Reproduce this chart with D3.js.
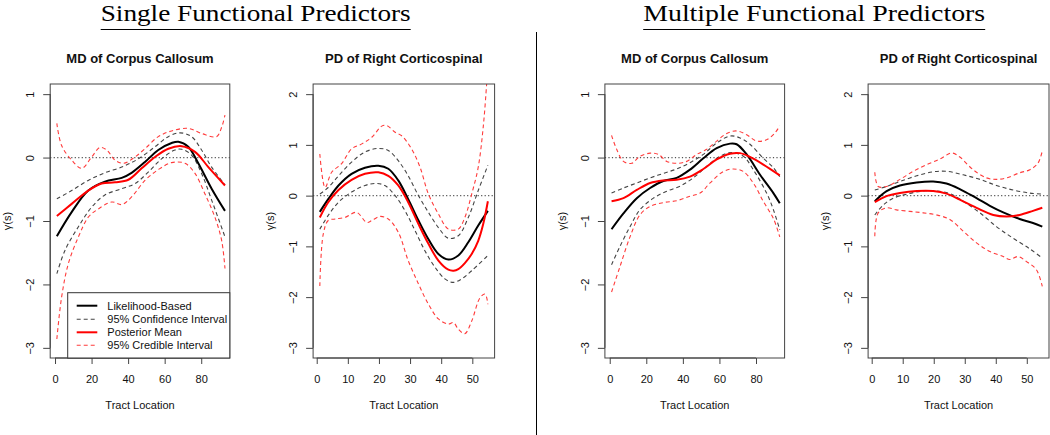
<!DOCTYPE html>
<html>
<head>
<meta charset="utf-8">
<script src="https://cdn.jsdelivr.net/npm/d3@7"></script>
<style>
  html, body { margin: 0; padding: 0; background: #fff; }
  svg { display: block; }
  text { font-family: "Liberation Sans", Arial, Helvetica, sans-serif; fill: #111; }
</style>
</head>
<body>
<svg id="chart" width="1050" height="435"></svg>
<script>
// ---------------- DATA ----------------
const groupTitles = ["Single Functional Predictors", "Multiple Functional Predictors"];
const panelTitles = ["MD of Corpus Callosum", "PD of Right Corticospinal", "MD of Corpus Callosum", "PD of Right Corticospinal"];
const xLabel = "Tract Location";
const yLabel = "γ(s)";
const mdXTicks = [0, 20, 40, 60, 80];
const pdXTicks = [0, 10, 20, 30, 40, 50];
const mdYTicks = [-3, -2, -1, 0, 1];
const pdYTicks = [-3, -2, -1, 0, 1, 2];
const legendLabels = ["Likelihood-Based", "95% Confidence Interval", "Posterior Mean", "95% Credible Interval"];

// Panel 1: single, MD of Corpus Callosum
const p1Like = [[1,-1.24],[9.1,-0.86],[18.2,-0.52],[27.3,-0.38],[36.5,-0.32],[41.9,-0.24],[49.2,-0.07],[56.5,0.12],[63.8,0.23],[67.5,0.25],[72.9,0.17],[78.4,-0.09],[85.7,-0.49],[93,-0.84]];
const p1Post = [[1,-0.92],[9.1,-0.73],[18.2,-0.52],[25.5,-0.41],[32.8,-0.39],[40.1,-0.35],[47.4,-0.17],[54.7,0.01],[62,0.14],[69.3,0.18],[76.6,0.09],[83.9,-0.15],[93,-0.44]];
const p1CIu = [[1,-0.65],[9.1,-0.52],[18.2,-0.36],[27.3,-0.24],[36.5,-0.15],[45.6,-0.02],[54.7,0.17],[62,0.33],[68.4,0.39],[74.7,0.33],[80.2,0.12],[85.7,-0.15],[93,-0.43]];
const p1CIl = [[1,-1.83],[5.5,-1.46],[12.8,-1.09],[20.1,-0.78],[27.3,-0.59],[36.5,-0.49],[43.8,-0.41],[51,-0.23],[58.3,-0.02],[65.6,0.12],[69.3,0.13],[74.7,0.04],[80.2,-0.25],[85.7,-0.67],[93,-1.25]];
const p1CrU = [[1,0.54],[3.6,0.19],[9.1,-0.04],[14.6,-0.17],[20.1,0.01],[24.6,0.16],[28.3,0.12],[32.8,-0.04],[37.4,-0.09],[43.8,0.01],[49.2,0.14],[56.5,0.33],[63.8,0.42],[72.9,0.46],[80.2,0.38],[88.4,0.33],[91.2,0.48],[93,0.67]];
const p1CrL = [[1,-2.86],[3.6,-2.2],[7.3,-1.67],[12.8,-1.25],[18.2,-0.94],[23.7,-0.81],[31,-0.7],[36.5,-0.74],[41.9,-0.62],[49.2,-0.36],[56.5,-0.19],[63.8,-0.08],[71.1,-0.09],[76.6,-0.25],[82,-0.57],[87.5,-0.94],[91.2,-1.31],[93,-1.75]];

// Panel 2: single, PD of Right Corticospinal
const p2Like = [[1,-0.32],[3.7,-0.07],[7,0.2],[11.2,0.43],[15.5,0.55],[19.8,0.59],[23,0.53],[26.2,0.3],[29.4,-0.07],[32.7,-0.49],[35.9,-0.86],[39.1,-1.15],[42.3,-1.26],[45.5,-1.18],[48.7,-0.92],[51.9,-0.59],[55,-0.3]];
const p2Post = [[1,-0.43],[3.7,-0.13],[7,0.11],[11.2,0.31],[15.5,0.43],[19.8,0.46],[23,0.39],[26.2,0.2],[29.4,-0.13],[32.7,-0.56],[35.9,-0.95],[39.1,-1.28],[42.3,-1.46],[44,-1.48],[45.5,-1.45],[47.6,-1.33],[49.8,-1.15],[51.9,-0.89],[53.5,-0.56],[55,-0.11]];
const p2CIu = [[1,0.03],[3.7,0.16],[7,0.39],[11.2,0.66],[15.5,0.86],[19.8,0.93],[23,0.89],[26.2,0.69],[29.4,0.39],[32.7,0],[35.9,-0.33],[39.1,-0.63],[42.3,-0.84],[45.5,-0.79],[48.7,-0.43],[51.9,0.1],[55,0.6]];
const p2CIl = [[1,-0.66],[3.7,-0.39],[7,-0.13],[11.2,0.07],[15.5,0.2],[18.7,0.24],[21.9,0.2],[25.2,0],[28.4,-0.3],[31.6,-0.69],[34.8,-1.09],[38,-1.41],[41.2,-1.64],[43.9,-1.71],[46.6,-1.64],[49.8,-1.48],[55,-1.18]];
const p2CrU = [[1,0.82],[2.7,0.16],[4.8,0.46],[8,0.63],[11.2,0.92],[14.5,1.02],[17.7,1.15],[20.9,1.37],[22.5,1.38],[25.2,1.25],[27.3,1.18],[30.5,0.92],[33.2,0.56],[35.9,0.03],[39.1,-0.36],[42.3,-0.66],[45.5,-0.66],[47.6,-0.43],[49.8,0.03],[51.9,0.56],[53.5,1.35],[54.6,2.2],[55,2.6]];
const p2CrL = [[1,-1.78],[2.1,-0.76],[3.7,-0.49],[5.9,-0.46],[9.1,-0.43],[12.8,-0.33],[16.1,-0.53],[17.7,-0.49],[20.3,-0.41],[23,-0.46],[26.2,-0.72],[29.4,-1.28],[32.7,-1.74],[35.9,-2.14],[39.1,-2.43],[42.3,-2.53],[43.9,-2.5],[45.5,-2.63],[47.6,-2.72],[49.8,-2.47],[52.5,-2.01],[54.1,-1.94],[55,-2.14]];

// Panel 3: multiple, MD of Corpus Callosum
const p3Like = [[1,-1.13],[7.5,-0.88],[14.8,-0.64],[22.1,-0.48],[29.3,-0.37],[36.6,-0.32],[43.9,-0.19],[51.2,-0.01],[58.5,0.15],[65.8,0.22],[69.4,0.21],[74.9,0.05],[82.2,-0.27],[89.5,-0.56],[93,-0.72]];
const p3Post = [[1,-0.69],[7.5,-0.64],[14.8,-0.51],[22.1,-0.4],[29.3,-0.36],[36.6,-0.35],[43.9,-0.3],[51.2,-0.18],[58.5,-0.03],[65.8,0.06],[71.3,0.07],[76.7,0.01],[84,-0.11],[93,-0.28]];
const p3CIu = [[1,-0.56],[7.5,-0.48],[14.8,-0.4],[22.1,-0.32],[29.3,-0.25],[36.6,-0.18],[43.9,-0.08],[51.2,0.05],[58.5,0.23],[65.8,0.34],[71.3,0.31],[76.7,0.21],[84,-0.01],[89.5,-0.16],[93,-0.3]];
const p3CIl = [[1,-1.69],[5.6,-1.4],[11.1,-1.09],[16.6,-0.82],[23.9,-0.64],[31.2,-0.53],[38.5,-0.45],[45.7,-0.32],[53,-0.14],[60.3,0.02],[66.7,0.08],[73.1,0.02],[78.5,-0.19],[85.8,-0.56],[89.5,-0.82],[93,-1.14]];
const p3CrU = [[1,0.35],[3.8,0.13],[7.5,-0.06],[12,-0.09],[16.6,0.02],[22.1,0.07],[26.6,0.05],[31.2,-0.06],[36.6,-0.09],[42.1,-0.06],[47.6,0.05],[53,0.13],[58.5,0.26],[64,0.38],[69.4,0.42],[74.9,0.36],[80.4,0.26],[85.8,0.28],[90.4,0.39],[93,0.5]];
const p3CrL = [[1,-2.12],[5.6,-1.72],[11.1,-1.25],[16.6,-0.9],[22.1,-0.77],[29.3,-0.71],[36.6,-0.68],[43.9,-0.61],[49.4,-0.56],[54.9,-0.4],[62.1,-0.22],[67.6,-0.18],[73.1,-0.22],[78.5,-0.4],[84,-0.69],[89.5,-0.96],[93,-1.25]];

// Panel 4: multiple, PD of Right Corticospinal
const p4Like = [[1,-0.11],[4.8,0.09],[9.1,0.2],[14.5,0.26],[19.8,0.28],[24.1,0.24],[28.4,0.13],[33.8,-0.05],[38.1,-0.2],[42.4,-0.33],[47.7,-0.46],[52,-0.54],[55,-0.61]];
const p4Post = [[1,-0.13],[4.8,-0.01],[9.1,0.05],[14.5,0.09],[19.8,0.09],[24.1,0.04],[28.4,-0.08],[33.8,-0.24],[39.2,-0.38],[43.5,-0.41],[47.7,-0.38],[52,-0.3],[55,-0.24]];
const p4CIu = [[1,0.11],[4.8,0.18],[9.1,0.28],[14.5,0.39],[19.8,0.47],[24.1,0.48],[29.5,0.41],[34.9,0.32],[40.2,0.2],[45.6,0.11],[51,0.05],[55,0.03]];
const p4CIl = [[1,-0.38],[3.8,-0.18],[7,-0.05],[11.3,0.03],[16.6,0.09],[20.9,0.09],[25.2,0.04],[29.5,-0.11],[34.9,-0.34],[40.2,-0.61],[45.6,-0.84],[51,-1.05],[55,-1.23]];
const p4CrU = [[1,0.46],[2.1,0.18],[4.8,0.18],[9.1,0.32],[13.4,0.48],[17.7,0.61],[22,0.72],[25.8,0.84],[28.4,0.76],[32.7,0.51],[37,0.35],[40.2,0.32],[43.5,0.35],[47.7,0.45],[51,0.51],[53.6,0.64],[55,0.88]];
const p4CrL = [[1,-0.8],[2.1,-0.34],[4.8,-0.24],[8,-0.28],[12.3,-0.31],[16.6,-0.34],[20.9,-0.38],[25.2,-0.47],[29.5,-0.7],[33.8,-0.93],[38.1,-1.1],[42.4,-1.2],[44.5,-1.26],[47.2,-1.2],[49.9,-1.3],[53.1,-1.46],[55,-1.79]];

// ---------------- LAYOUT ----------------
const svg = d3.select("#chart");
const TOP = 84, BOTTOM = 358;
const mdX = [-2.64, 95.64], pdX = [-1.16, 57.16];
const mdY = [-3.16, 1.16], pdY = [-3.2, 2.2];

const panels = [
  { title: panelTitles[0], left: 50.2,  right: 229.8, xd: mdX, yd: mdY, xt: mdXTicks, yt: mdYTicks, s: [p1CIu, p1CIl, p1Like, p1CrU, p1CrL, p1Post], legend: true },
  { title: panelTitles[1], left: 313.1, right: 494.6, xd: pdX, yd: pdY, xt: pdXTicks, yt: pdYTicks, s: [p2CIu, p2CIl, p2Like, p2CrU, p2CrL, p2Post] },
  { title: panelTitles[2], left: 604.9, right: 784.6, xd: mdX, yd: mdY, xt: mdXTicks, yt: mdYTicks, s: [p3CIu, p3CIl, p3Like, p3CrU, p3CrL, p3Post] },
  { title: panelTitles[3], left: 868.1, right: 1049,  xd: pdX, yd: pdY, xt: pdXTicks, yt: pdYTicks, s: [p4CIu, p4CIl, p4Like, p4CrU, p4CrL, p4Post] }
];

const styles = [
  { stroke: "#444", width: 1.1, dash: "4,3" },     // CI upper
  { stroke: "#444", width: 1.1, dash: "4,3" },     // CI lower
  { stroke: "#000", width: 2.0, dash: null },      // likelihood
  { stroke: "#ff3b3b", width: 1.1, dash: "4,3" },  // cred upper
  { stroke: "#ff3b3b", width: 1.1, dash: "4,3" },  // cred lower
  { stroke: "#ff0000", width: 2.0, dash: null }    // posterior mean
];

const BOX = "#444";

// Group headings
const groupCenters = [255.7, 814.2];
const groupWidths = [310, 342];
groupTitles.forEach((t, i) => {
  svg.append("text")
    .attr("x", groupCenters[i]).attr("y", 20.5)
    .attr("text-anchor", "middle")
    .attr("textLength", groupWidths[i])
    .attr("lengthAdjust", "spacingAndGlyphs")
    .style("font-family", "'Liberation Serif', 'DejaVu Serif', serif")
    .style("font-size", "23px")
    .style("fill", "#000")
    .text(t);
  svg.append("line")
    .attr("x1", groupCenters[i] - groupWidths[i] / 2).attr("x2", groupCenters[i] + groupWidths[i] / 2)
    .attr("y1", 29.5).attr("y2", 29.5)
    .attr("stroke", "#000").attr("stroke-width", 1);
});

// Vertical divider
svg.append("line").attr("x1", 536.5).attr("x2", 536.5).attr("y1", 32).attr("y2", 435)
  .attr("stroke", "#000").attr("stroke-width", 1);

panels.forEach((p, pi) => {
  const x = d3.scaleLinear().domain(p.xd).range([p.left, p.right]);
  const y = d3.scaleLinear().domain(p.yd).range([BOTTOM, TOP]);
  const g = svg.append("g");

  const clipId = "clip" + pi;
  svg.append("clipPath").attr("id", clipId).append("rect")
    .attr("x", p.left).attr("y", TOP).attr("width", p.right - p.left).attr("height", BOTTOM - TOP);

  // Title
  g.append("text").attr("x", (p.left + p.right) / 2).attr("y", TOP - 21)
    .attr("text-anchor", "middle").style("font-weight", "bold").style("font-size", "13px")
    .text(p.title);

  // zero reference line
  g.append("line").attr("x1", p.left).attr("x2", p.right).attr("y1", y(0)).attr("y2", y(0))
    .attr("stroke", "#555").attr("stroke-width", 1.2).attr("stroke-dasharray", "1.2,2.3");

  // lines
  const line = d3.line().x(d => x(d[0])).y(d => y(d[1])).curve(d3.curveCatmullRom.alpha(0.5));
  const lg = g.append("g").attr("clip-path", `url(#${clipId})`);
  p.s.forEach((data, si) => {
    const st = styles[si];
    lg.append("path").attr("d", line(data)).attr("fill", "none")
      .attr("stroke", st.stroke).attr("stroke-width", st.width)
      .attr("stroke-dasharray", st.dash);
  });

  // box
  g.append("rect").attr("x", p.left).attr("y", TOP).attr("width", p.right - p.left).attr("height", BOTTOM - TOP)
    .attr("fill", "none").attr("stroke", BOX).attr("stroke-width", 1);

  // x axis
  const xa = d3.axisBottom(x).tickValues(p.xt).tickSize(6).tickPadding(0).tickFormat(d3.format("d"));
  const xg = g.append("g").attr("transform", `translate(0,${BOTTOM})`).call(xa);
  xg.select(".domain").attr("d", `M${x(p.xt[0])},0H${x(p.xt[p.xt.length - 1])}`).attr("stroke", BOX);
  xg.selectAll(".tick line").attr("stroke", BOX);
  xg.selectAll(".tick text").attr("y", 25).attr("dy", null)
    .style("font-size", "11px").style("font-family", "'Liberation Sans', Arial, sans-serif").attr("fill", "#111");

  // y axis
  const ya = d3.axisLeft(y).tickValues(p.yt).tickSize(7).tickFormat(d3.format("d"));
  const yg = g.append("g").attr("transform", `translate(${p.left},0)`).call(ya);
  yg.select(".domain").attr("d", `M0,${y(p.yt[0])}V${y(p.yt[p.yt.length - 1])}`).attr("stroke", BOX);
  yg.selectAll(".tick line").attr("stroke", BOX);
  yg.selectAll(".tick text")
    .attr("x", null).attr("dy", null)
    .attr("transform", "translate(-16,0) rotate(-90)")
    .attr("text-anchor", "middle").attr("y", 0)
    .style("font-size", "11px").style("font-family", "'Liberation Sans', Arial, sans-serif").attr("fill", "#111");

  // axis labels
  g.append("text").attr("x", (p.left + p.right) / 2).attr("y", BOTTOM + 51)
    .attr("text-anchor", "middle").style("font-size", "11px").text(xLabel);
  g.append("text").attr("transform", `translate(${p.left - 39},${(TOP + BOTTOM) / 2}) rotate(-90)`)
    .attr("text-anchor", "middle").style("font-size", "11px").text(yLabel);

  // legend
  if (p.legend) {
    const lx = 67.7, ly = 292.7;
    g.append("rect").attr("x", lx).attr("y", ly).attr("width", p.right - lx).attr("height", BOTTOM - ly)
      .attr("fill", "#fff").attr("stroke", "#333").attr("stroke-width", 1);
    const legStyles = [styles[2], styles[0], styles[5], styles[3]];
    const rowY = [305.7, 319.2, 332.3, 345.3];
    legendLabels.forEach((lab, i) => {
      const st = legStyles[i];
      g.append("line").attr("x1", 76.7).attr("x2", 97.3).attr("y1", rowY[i]).attr("y2", rowY[i])
        .attr("stroke", st.stroke).attr("stroke-width", st.width).attr("stroke-dasharray", st.dash);
      g.append("text").attr("x", 107.3).attr("y", rowY[i] + 4).style("font-size", "11px").text(lab);
    });
  }
});
</script>
</body>
</html>
